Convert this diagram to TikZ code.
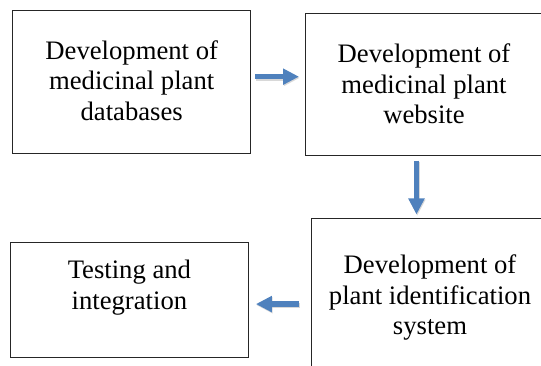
\documentclass[tikz,border=0pt]{standalone}
\usepackage{fontspec}
\setmainfont{Liberation Serif}
\usepackage{xcolor}
\usetikzlibrary{arrows.meta}

\definecolor{flowblue}{HTML}{4F81BD}

\begin{document}
\begin{tikzpicture}[
    x=0.75pt, y=-0.75pt,
    stage/.style={draw=black!85, line width=0.8pt, inner sep=0pt},
    stagelbl/.style={align=center, inner sep=0pt, anchor=north, font=\fontsize{20pt}{23pt}\selectfont},
    flow/.style={draw=flowblue, line width=4pt, -{Triangle[width=11.5pt, length=12pt]}},
    flowshadow/.style={flow, draw=black!30, opacity=0.5, transform canvas={shift={(0.6pt,-0.9pt)}}},
]
\useasboundingbox (0,0) rectangle (541,365);
\clip (0,0) rectangle (541,365);

% ─── Stages ───
\node[stage, minimum width=178.6pt, minimum height=107pt]   at (131.5, 82)    (dbbox)   {};
\node[stage, minimum width=178.2pt, minimum height=106.7pt] at (424.2, 84.4)  (webbox)  {};
\node[stage, minimum width=177.3pt, minimum height=115.3pt] at (429.8, 295.2) (idbox)   {};
\node[stage, minimum width=178.5pt, minimum height=86.3pt]  at (129.4, 300.2) (testbox) {};

% ─── Stage texts ───
\node[stagelbl] at (131.7, 40.1)  (dblbl)   {Development of\\medicinal plant\\databases};
\node[stagelbl] at (424.0, 43.5)  (weblbl)  {Development of\\medicinal plant\\website};
\node[stagelbl] at (430.0, 254.5) (idlbl)   {Development of\\plant identification\\system};
\node[stagelbl] at (129.4, 260.1) (testlbl) {Testing and\\integration};

% ─── Flows (shadow pass first, then the blue arrows) ───
\foreach \pass in {flowshadow, flow} {
    \draw[\pass, shorten <=3.2pt, shorten >=4.4pt]
        ([yshift=4pt]dbbox.east) -- ([yshift=4pt]dbbox.east -| webbox.west);
    \draw[\pass, shorten <=3.4pt, shorten >=2.5pt]
        ([xshift=-5.8pt]webbox.south) -- ([xshift=-5.8pt]webbox.south |- idbox.north);
    \draw[\pass, shorten <=9pt, shorten >=5.2pt]
        ([yshift=-2.9pt]testbox.east -| idbox.west) -- ([yshift=-2.9pt]testbox.east);
}

\end{tikzpicture}
\end{document}
